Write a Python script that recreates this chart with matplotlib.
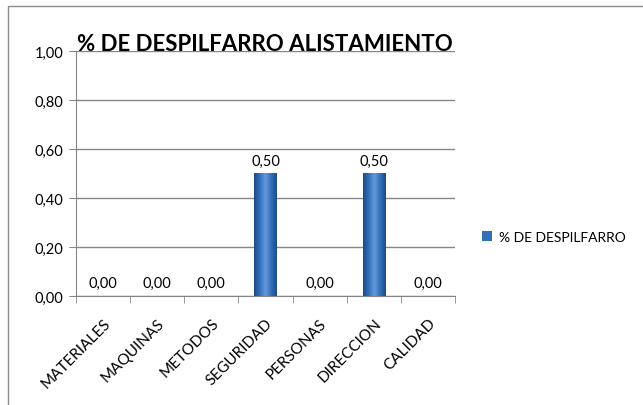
# -*- coding:utf-8 -*-
# % de despilfarro en alistamiento por categoría

import numpy as np
import matplotlib.pyplot as plt
from matplotlib.patches import Rectangle
from matplotlib.colors import LinearSegmentedColormap

categorias = ["MATERIALES", "MAQUINAS", "METODOS", "SEGURIDAD",
              "PERSONAS", "DIRECCION", "CALIDAD"]
despilfarro = [0.00, 0.00, 0.00, 0.50, 0.00, 0.50, 0.00]
y_ticks = [0.0, 0.2, 0.4, 0.6, 0.8, 1.0]

plt.rcParams['font.family'] = ['Lato', 'DejaVu Sans']

fig = plt.figure(figsize=(6.43, 4.06), dpi=100)
ax = fig.add_axes([0.118, 0.268, 0.590, 0.604])

# borde del área del gráfico
fig.patches.append(Rectangle((8 / 643, -0.1), 1.2, 1.1 - 7 / 406,
                             transform=fig.transFigure, fill=False,
                             edgecolor="#8c8c8c", lw=1))

x = np.arange(len(categorias))
ancho = 0.42
# degradado tipo cilindro para las barras
cmap = LinearSegmentedColormap.from_list(
    "cil", ["#1c4a86", "#3270bb", "#6599da", "#3270bb", "#1c4a86"])
grad = np.linspace(0, 1, 64).reshape(1, -1)
barras = ax.bar(x, despilfarro, width=ancho, color="#3270bb", zorder=2,
                label="% DE DESPILFARRO")
for b in barras:
    h = b.get_height()
    if h > 0:
        x0 = b.get_x()
        ax.imshow(grad, cmap=cmap, aspect="auto", zorder=3,
                  extent=(x0, x0 + b.get_width(), 0, h))

for xi, v in zip(x, despilfarro):
    ax.text(xi, v + 0.025, ("%.2f" % v).replace(".", ","), ha="center",
            va="bottom", fontsize=10.5)

ax.set_xlim(-0.5, len(categorias) - 0.5)
ax.set_ylim(0, 1)
ax.set_yticks(y_ticks)
ax.set_yticklabels([("%.2f" % t).replace(".", ",") for t in y_ticks],
                   fontsize=10.5)
ax.yaxis.grid(True, color="#868686", lw=1, zorder=0)
ax.set_axisbelow(True)

ax.set_xticks(x)
ax.set_xticklabels(categorias, rotation=45, ha="right", va="top",
                   rotation_mode="anchor", fontsize=11)
ax.tick_params(axis="x", length=0, pad=14)
ax.set_xticks(np.arange(len(categorias) + 1) - 0.5, minor=True)
ax.tick_params(axis="x", which="minor", length=5, color="#868686")
ax.tick_params(axis="y", length=5, color="#868686", pad=4)

for s in ["top", "right"]:
    ax.spines[s].set_visible(False)
ax.spines["left"].set_color("#868686")
ax.spines["bottom"].set_color("#868686")

fig.text(265 / 643, 0.89, "% DE DESPILFARRO ALISTAMIENTO", ha="center",
         va="center", fontsize=16, fontweight="bold")

ax.legend(loc="center left", bbox_to_anchor=(0.73, 0.415),
          bbox_transform=fig.transFigure, frameon=False, fontsize=10,
          handlelength=0.7, handleheight=0.7, handletextpad=0.5)

fig.savefig("out.png", dpi=100)
